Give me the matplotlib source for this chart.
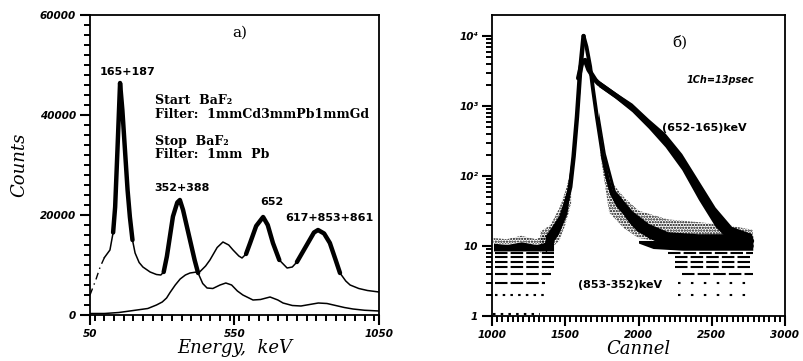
import matplotlib
matplotlib.use("Agg")
import matplotlib.pyplot as plt
import numpy as np
from matplotlib.ticker import MultipleLocator, FixedLocator, LogLocator, NullFormatter

# ---- panel a): energy spectra (Start / Stop BaF2)
energy_a = [50, 70, 85, 100, 119, 130, 137, 145, 154, 162, 171, 180, 188, 197, 206,
            220, 233, 258, 280, 295, 305, 316, 337, 352, 361, 372, 396, 412, 424, 440,
            455, 475, 500, 520, 540, 560, 579, 614, 640, 673, 700, 718, 750, 780, 810,
            840, 870, 900, 930, 960, 1000, 1050]
counts_a = [4000, 7000, 9600, 11500, 13000, 16500, 21600, 33000, 46400, 41000, 33000,
            25000, 19600, 15000, 12400, 10500, 9600, 8600, 8100, 8000, 8600, 11700,
            19700, 22500, 23000, 21000, 15000, 11000, 8400, 6300, 5400, 5300, 6000,
            6400, 6000, 4800, 4000, 3000, 3100, 3600, 3000, 2400, 1900, 1800, 2100,
            2400, 2300, 1900, 1500, 1200, 950, 800]

energy_b = [50, 100, 150, 200, 250, 280, 300, 315, 327, 345, 362, 380, 396, 431, 450,
            465, 490, 510, 530, 545, 565, 576, 590, 604, 625, 649, 665, 683, 705, 732,
            750, 766, 800, 825, 839, 860, 880, 900, 915, 935, 950, 980, 1010, 1050]
counts_b = [300, 300, 500, 900, 1300, 2000, 2600, 3400, 4500, 6000, 7200, 8000, 8400,
            8700, 9800, 11000, 13500, 14600, 14000, 13000, 11800, 11400, 12200, 14400,
            17800, 19600, 18000, 14400, 11000, 9400, 9600, 10600, 14000, 16500, 17000,
            16300, 14400, 11000, 8400, 6800, 6000, 5300, 4900, 4600]

# ---- panel б): time spectra
rise_ch = [1360, 1400, 1432, 1470, 1500, 1534, 1557, 1580, 1602, 1625]
rise_cnt = [10, 12, 15, 22, 36, 70, 190, 700, 3250, 10000]

narrow_ch = [1625, 1645, 1670, 1690, 1716, 1740, 1761, 1790, 1818, 1860, 1909, 1950,
             2000, 2070, 2136, 2295, 2500, 2773]
narrow_cnt = [10000, 7000, 3650, 1700, 700, 330, 170, 90, 56, 38, 29, 22, 17, 14, 12,
              11, 10.5, 10]

broad_ch = [1590, 1615, 1636, 1660, 1705, 1727, 1841, 1955, 2068, 2182, 2295, 2409,
            2523, 2636, 2773]
broad_cnt = [2500, 4300, 4500, 3300, 2350, 2100, 1430, 950, 560, 330, 160, 63, 26,
             14.5, 11.8]

# dense band around the broad tail
broad_band_ch = [1727, 1841, 1955, 2068, 2182, 2295, 2409, 2523, 2636, 2773]
broad_band_lo = [1900, 1290, 830, 480, 260, 123, 46, 19, 11, 9.3]
broad_band_hi = [2340, 1580, 1100, 660, 410, 210, 87, 36, 19, 15]

# dense band around the narrow tail
narrow_band_ch = [1727, 1773, 1841, 1955, 2068, 2200, 2400, 2600, 2780]
narrow_band_lo = [600, 150, 42, 21, 13, 10.5, 9.5, 9.5, 9.5]
narrow_band_hi = [820, 215, 62, 32, 21, 16, 15, 15, 14]

# rising edge band
rise_band_ch = [1364, 1455, 1511, 1545, 1580, 1602]
rise_band_lo = [8, 15, 29, 88, 510, 1900]
rise_band_hi = [14, 27, 62, 200, 1100, 3400]

# sparse scatter zones
rise_scatter_ch = [1330, 1400, 1460, 1500, 1540]
rise_scatter_lo = [8, 9, 12, 20, 40]
rise_scatter_hi = [16, 20, 35, 60, 120]

tail_scatter_ch = [1740, 1800, 1900, 2000, 2200, 2400, 2600, 2780]
tail_scatter_lo = [200, 30, 18, 13, 11, 11, 11, 11]
tail_scatter_hi = [420, 90, 50, 32, 24, 22, 20, 17]

bg_left_ch = [1010, 1100, 1200, 1300, 1420]
bg_left_lo = [8.5, 8.5, 8.5, 8.5, 8.5]
bg_left_hi = [11, 10.5, 11.5, 10.5, 12]
bg_left_top = [13, 12.5, 14, 12.5, 16]

bg_right_ch = [2000, 2100, 2300, 2500, 2780]
bg_right_lo = [11, 9.2, 8.7, 8.7, 8.7]
bg_right_hi = [12, 12, 11.5, 12, 12.5]

row_levels = [1, 2, 3, 4, 5, 6, 7, 8]
row_left_from = [1010, 1020, 1020, 1020, 1020, 1020, 1020, 1020]
row_left_to = [1330, 1360, 1360, 1400, 1420, 1420, 1420, 1420]
row_right_from = [None, 2270, 2270, 2300, 2250, 2250, 2250, 2200]
row_right_to = [None, 2780, 2780, 2780, 2780, 2780, 2780, 2780]

tick_font = dict(family="DejaVu Sans", weight="bold", style="oblique", size=7.5)
label_font = dict(family="DejaVu Serif", style="italic", size=13)
note_font = dict(family="DejaVu Serif", weight="bold", size=9)
num_font = dict(family="DejaVu Sans", weight="bold", size=8)

plt.rcParams["hatch.linewidth"] = 1.1

fig = plt.figure(figsize=(8.04, 3.61), dpi=100)
ax1 = fig.add_axes([90 / 804, 46 / 361, 289 / 804, 300 / 361])
ax2 = fig.add_axes([492 / 804, 45 / 361, 293 / 804, 301 / 361])


def style_axes(ax):
    for sp in ax.spines.values():
        sp.set_linewidth(1.3)
    ax.tick_params(which="major", direction="out", length=7, width=1.5,
                   color="black", pad=3)
    ax.tick_params(which="minor", direction="out", length=4, width=1.4,
                   color="black")
    for lab in ax.get_xticklabels() + ax.get_yticklabels():
        lab.set(**tick_font)


# ---------------- panel a)
ea, ca = np.array(energy_a), np.array(counts_a)
eb, cb = np.array(energy_b), np.array(counts_b)

k = 4  # dashed start of the Start curve
ax1.plot(ea[:k], ca[:k], color="black", lw=1.0, ls=(0, (5, 3, 1, 3)))
ax1.plot(ea[k - 1:], ca[k - 1:], color="black", lw=1.1)
ax1.plot(eb, cb, color="black", lw=1.1)
for lo, hi in [(130, 200), (300, 430)]:
    m = (ea >= lo) & (ea <= hi)
    ax1.plot(ea[m], ca[m], color="black", lw=3.2, solid_capstyle="round")
for lo, hi in [(586, 707), (760, 915)]:
    m = (eb >= lo) & (eb <= hi)
    ax1.plot(eb[m], cb[m], color="black", lw=3.2, solid_capstyle="round")

ax1.set_xlim(50, 1050)
ax1.set_ylim(0, 60000)
ax1.xaxis.set_major_locator(FixedLocator([50, 550, 1050]))
ax1.xaxis.set_minor_locator(MultipleLocator(1000 / 30))
ax1.yaxis.set_major_locator(FixedLocator([0, 20000, 40000, 60000]))
ax1.yaxis.set_minor_locator(MultipleLocator(2000))
style_axes(ax1)
ax1.set_xlabel("Energy,  keV", labelpad=0, **label_font)
ax1.set_ylabel("Counts", labelpad=8, **label_font)

ax1.text(181, 48600, "165+187", ha="center", va="center", **num_font)
ax1.text(275, 43000, "Start  BaF₂", ha="left", va="center", **note_font)
ax1.text(275, 40000, "Filter:  1mmCd3mmPb1mmGd", ha="left", va="center", **note_font)
ax1.text(275, 34600, "Stop  BaF₂", ha="left", va="center", **note_font)
ax1.text(275, 32000, "Filter:  1mm  Pb", ha="left", va="center", **note_font)
ax1.text(368, 25400, "352+388", ha="center", va="center", **num_font)
ax1.text(680, 22600, "652", ha="center", va="center", **num_font)
ax1.text(877, 19400, "617+853+861", ha="center", va="center", **num_font)
ax1.text(569, 56400, "a)", ha="center", va="center", family="DejaVu Serif", size=11)

# ---------------- panel б)
ax2.set_yscale("log")
dots = dict(facecolor="none", edgecolor="black", hatch="......", lw=0)
ax2.fill_between(rise_scatter_ch, rise_scatter_lo, rise_scatter_hi, **dots)
ax2.fill_between(tail_scatter_ch, tail_scatter_lo, tail_scatter_hi, **dots)
ax2.fill_between(bg_left_ch, bg_left_hi, bg_left_top, **dots)
ax2.fill_between(bg_left_ch, bg_left_lo, bg_left_hi, color="black", lw=0)
ax2.fill_between(bg_right_ch, bg_right_lo, bg_right_hi, color="black", lw=0)
ax2.fill_between(rise_band_ch, rise_band_lo, rise_band_hi, color="black", lw=0)
ax2.fill_between(narrow_band_ch, narrow_band_lo, narrow_band_hi, color="black", lw=0)
ax2.fill_between(broad_band_ch, broad_band_lo, broad_band_hi, color="black", lw=0)

ax2.plot(rise_ch, rise_cnt, color="black", lw=3.2, solid_capstyle="round")
ax2.plot(narrow_ch, narrow_cnt, color="black", lw=2.8, solid_capstyle="round")
ax2.plot(broad_ch, broad_cnt, color="black", lw=3.5, solid_capstyle="round")

for i, lev in enumerate(row_levels):
    ls = (0, (1.2, 2.5)) if lev <= 2 else (0, (6, 1.5))
    y = lev * 1.06 if lev == 1 else lev
    ax2.hlines(y, row_left_from[i], row_left_to[i], color="black", lw=1.5,
               linestyles=[ls])
    if row_right_from[i] is not None:
        ls_r = (0, (1.2, 5)) if lev <= 3 else (0, (6, 1.5))
        ax2.hlines(lev, row_right_from[i], row_right_to[i], color="black", lw=1.5,
                   linestyles=[ls_r])

ax2.set_xlim(1000, 3000)
ax2.set_ylim(1, 10 ** 4.3)
ax2.xaxis.set_major_locator(FixedLocator([1000, 1500, 2000, 2500, 3000]))
ax2.xaxis.set_minor_locator(MultipleLocator(1000 / 28))
ax2.yaxis.set_major_locator(FixedLocator([1, 10, 100, 1000, 10000]))
ax2.yaxis.set_major_formatter(plt.FixedFormatter(["1", "10", "10²", "10³", "10⁴"]))
ax2.yaxis.set_minor_locator(LogLocator(base=10, subs=np.arange(2, 10)))
ax2.yaxis.set_minor_formatter(NullFormatter())
style_axes(ax2)
ax2.set_xlabel("Cannel", labelpad=0, **label_font)

ax2.text(2283, 7950, "б)", ha="center", va="center", family="DejaVu Serif", size=11)
ax2.text(2556, 2350, "1Ch=13psec", ha="center", va="center", family="DejaVu Sans",
         weight="bold", style="oblique", size=7)
ax2.text(2447, 485, "(652-165)keV", ha="center", va="center", **num_font)
ax2.text(1874, 2.77, "(853-352)keV", ha="center", va="center", **num_font)

fig.savefig("out.png", dpi=100)
